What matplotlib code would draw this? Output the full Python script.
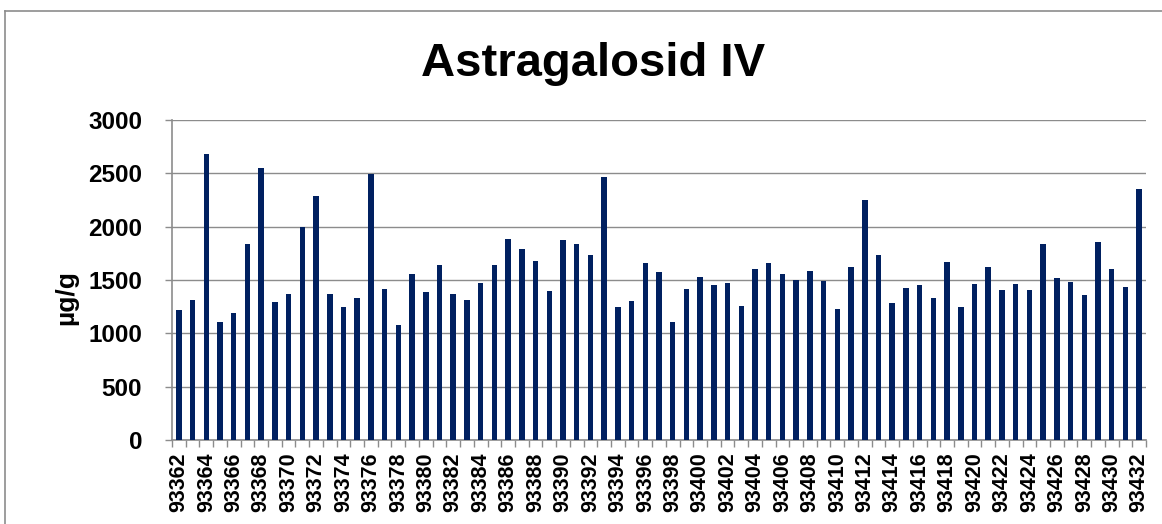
import matplotlib
matplotlib.use("Agg")
import matplotlib.pyplot as plt
from matplotlib.lines import Line2D

# Sample ids 93362 .. 93432
sample_ids = [str(n) for n in range(93362, 93433)]

# Astragalosid IV content in ug/g
values = [
    1216, 1316, 2681, 1109, 1191, 1838, 2547, 1297, 1372, 2000,
    2284, 1366, 1247, 1331, 2497, 1416, 1078, 1556, 1391, 1641,
    1372, 1316, 1475, 1644, 1881, 1794, 1678, 1397, 1878, 1841,
    1738, 2469, 1250, 1303, 1663, 1575, 1109, 1416, 1531, 1450,
    1469, 1256, 1603, 1659, 1553, 1503, 1588, 1491, 1231, 1619,
    2253, 1734, 1280, 1422, 1456, 1328, 1666, 1247, 1459, 1619,
    1409, 1459, 1403, 1841, 1522, 1484, 1363, 1859, 1600, 1431,
    2353,
]

y_ticks = [0, 500, 1000, 1500, 2000, 2500, 3000]

BAR_COLOR = "#002060"
GRID_COLOR = "#8c8c8c"


def main() -> None:
    plt.rcParams["font.family"] = ["Liberation Sans", "DejaVu Sans"]
    plt.rcParams["font.weight"] = "bold"

    W, H = 1162, 524
    fig = plt.figure(figsize=(W / 100, H / 100), dpi=100)

    # Plot area in pixels: x 172..1146, y 120..440
    ax = fig.add_axes([172 / W, 1 - 440 / H, (1146 - 172) / W, 320 / H])

    x = list(range(len(values)))
    ax.bar(x, values, width=0.4, color=BAR_COLOR, zorder=3)

    ax.set_xlim(-0.5, len(values) - 0.5)
    ax.set_ylim(0, 3000)

    # Horizontal gridlines
    ax.set_yticks(y_ticks)
    ax.set_yticklabels([str(t) for t in y_ticks], fontsize=17.5,
                       fontweight="bold")
    ax.yaxis.grid(True, color=GRID_COLOR, linewidth=1.0, zorder=0)
    ax.tick_params(axis="y", length=5, width=1.0, color=GRID_COLOR,
                   pad=16.5)

    # Category ticks at the boundaries, labels on every second bar
    ax.set_xticks([i - 0.5 for i in range(len(values) + 1)])
    ax.set_xticklabels([])
    ax.set_xticks(x[::2], minor=True)
    ax.set_xticklabels(sample_ids[::2], minor=True, rotation=90,
                       fontsize=15.5, fontweight="bold")
    ax.tick_params(axis="x", which="major", length=5, width=1.0,
                   color=GRID_COLOR)
    ax.tick_params(axis="x", which="minor", length=0, pad=9)

    for side in ("top", "right"):
        ax.spines[side].set_visible(False)
    for side in ("left", "bottom"):
        ax.spines[side].set_color(GRID_COLOR)
        ax.spines[side].set_linewidth(1.2)

    # Title and axis label
    fig.text(593 / W, 1 - 76 / H, "Astragalosid IV", ha="center",
             va="baseline", fontsize=34, fontweight="bold")
    fig.text(66 / W, 1 - 298 / H, "µg/g", ha="center", va="center",
             rotation=90, fontsize=19, fontweight="bold")

    # Outer chart frame (clipped at right and bottom)
    fx, fy = 4.7 / W, 1 - 11 / H
    fig.add_artist(Line2D([fx, 1.01], [fy, fy], color=GRID_COLOR,
                          linewidth=1.2, transform=fig.transFigure))
    fig.add_artist(Line2D([fx, fx], [fy, -0.01], color=GRID_COLOR,
                          linewidth=1.2, transform=fig.transFigure))

    fig.savefig("out.png", dpi=100, facecolor="white")


if __name__ == "__main__":
    main()
